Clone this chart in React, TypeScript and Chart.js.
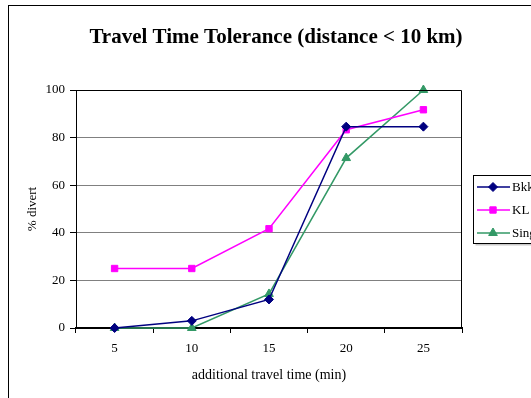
import React, { useEffect, useRef } from "react";
import { Chart, registerables } from "chart.js";
import { drawPoint } from "chart.js/helpers";

Chart.register(...registerables);

const TITLE = "Travel Time Tolerance (distance < 10 km)";
const X_TITLE = "additional travel time (min)";
const Y_TITLE = "% divert";

const categories = ["5", "10", "15", "20", "25"];
const seriesNames = ["Bkk", "KL", "Sing"];
const bkk = [0, 3, 12, 84.6, 84.6];
const kl = [25, 25, 41.7, 83.3, 91.7];
const sing = [0, 0, 14.3, 71.4, 100];

const colors = ["#000080", "#FF00FF", "#339966"];
const pointStyles = ["rectRot", "rect", "triangle"] as const;
const pointRadii = [4.5, 4.5, 5];

const SERIF = "'Liberation Serif', 'Times New Roman', serif";

const framePlugin = {
  id: "frame",
  beforeDraw(chart: any) {
    const { ctx, width, height } = chart;
    ctx.save();
    ctx.fillStyle = "#fff";
    ctx.fillRect(0, 0, width, height);
    ctx.strokeStyle = "#000";
    ctx.lineWidth = 1;
    ctx.strokeRect(8.5, 5.5, width + 20, height + 20);
    ctx.restore();
  },
  afterDatasetsDraw(chart: any) {
    const { ctx, chartArea } = chart;
    ctx.save();
    // plot area outline (top and right edges)
    ctx.strokeStyle = "#000";
    ctx.lineWidth = 1;
    ctx.beginPath();
    ctx.moveTo(chartArea.left, chartArea.top + 0.5);
    ctx.lineTo(chartArea.right - 0.5, chartArea.top + 0.5);
    ctx.lineTo(chartArea.right - 0.5, chartArea.bottom);
    ctx.stroke();
    ctx.restore();
  },
  afterDraw(chart: any) {
    const { ctx } = chart;
    ctx.save();
    // title
    ctx.fillStyle = "#000";
    ctx.font = `bold 21px ${SERIF}`;
    ctx.textAlign = "center";
    ctx.textBaseline = "middle";
    ctx.fillText(TITLE, 276, 38);

    // legend
    const bx = 473.5;
    const by = 175.5;
    const bh = 68;
    ctx.fillStyle = "#c8c8c8";
    ctx.fillRect(bx + 2, by + bh, 200, 2);
    ctx.fillStyle = "#fff";
    ctx.fillRect(bx, by, 200, bh);
    ctx.strokeStyle = "#000";
    ctx.lineWidth = 1;
    ctx.strokeRect(bx, by, 200, bh);
    ctx.font = `13px ${SERIF}`;
    ctx.textAlign = "left";
    chart.data.datasets.forEach((ds: any, i: number) => {
      const y = 187 + i * 23;
      ctx.strokeStyle = ds.borderColor;
      ctx.lineWidth = 1.5;
      ctx.beginPath();
      ctx.moveTo(477, y);
      ctx.lineTo(510, y);
      ctx.stroke();
      ctx.fillStyle = ds.backgroundColor;
      ctx.strokeStyle = ds.borderColor;
      ctx.lineWidth = 1;
      drawPoint(ctx, { pointStyle: ds.pointStyle, radius: ds.pointRadius, borderWidth: 1, rotation: 0 } as any, 493, y);
      ctx.fillStyle = "#000";
      ctx.fillText(ds.label, 512, y + 1);
    });
    ctx.restore();
  },
};

export default function App() {
  const ref = useRef<HTMLCanvasElement | null>(null);

  useEffect(() => {
    document.body.style.margin = "0";
    const canvas = ref.current;
    if (!canvas) return;
    const values = [bkk, kl, sing];
    const chart = new Chart(canvas, {
      type: "line",
      data: {
        labels: categories,
        datasets: seriesNames.map((name, i) => ({
          label: name,
          data: values[i],
          borderColor: colors[i],
          backgroundColor: colors[i],
          borderWidth: 1.5,
          pointStyle: pointStyles[i],
          pointRadius: pointRadii[i],
          pointBorderWidth: 1,
          tension: 0,
          fill: false,
          clip: false,
        })),
      },
      options: {
        responsive: false,
        animation: false,
        devicePixelRatio: 1,
        layout: { padding: { left: 0, top: 90, right: 138, bottom: 32 } },
        plugins: {
          legend: { display: false },
          title: { display: false },
          tooltip: { enabled: false },
        },
        scales: {
          x: {
            type: "category",
            offset: true,
            grid: {
              offset: true,
              drawOnChartArea: false,
              drawTicks: true,
              tickLength: 5,
              tickColor: "#000",
            },
            border: { display: true, color: "#000", width: 2 },
            ticks: {
              color: "#000",
              font: { family: SERIF, size: 13 },
              padding: 8,
              maxRotation: 0,
            },
            title: {
              display: true,
              text: X_TITLE,
              color: "#000",
              font: { family: SERIF, size: 14 },
              padding: { top: 4, bottom: 4 },
            },
            afterFit(scale: any) {
              scale.height = 60;
            },
          },
          y: {
            min: 0,
            max: 100,
            ticks: {
              stepSize: 20,
              color: "#000",
              font: { family: SERIF, size: 13 },
              padding: 5,
            },
            grid: {
              color: (c: any) => (c.tick && (c.tick.value === 0 || c.tick.value === 100) ? "rgba(0,0,0,0)" : "#808080"),
              tickColor: "#000",
              tickLength: 6,
              lineWidth: 1,
            },
            border: { display: true, color: "#000", width: 1 },
            title: {
              display: true,
              text: Y_TITLE,
              color: "#000",
              font: { family: SERIF, size: 13 },
              padding: { top: 25, bottom: 4 },
            },
            afterFit(scale: any) {
              scale.width = 76;
            },
          },
        },
      },
      plugins: [framePlugin],
    });
    return () => chart.destroy();
  }, []);

  return (
    <div style={{ position: "absolute", left: 0, top: 0, width: 531, height: 398, overflow: "hidden", background: "#fff" }}>
      <canvas ref={ref} width={600} height={420} style={{ display: "block", width: 600, height: 420 }} />
    </div>
  );
}
